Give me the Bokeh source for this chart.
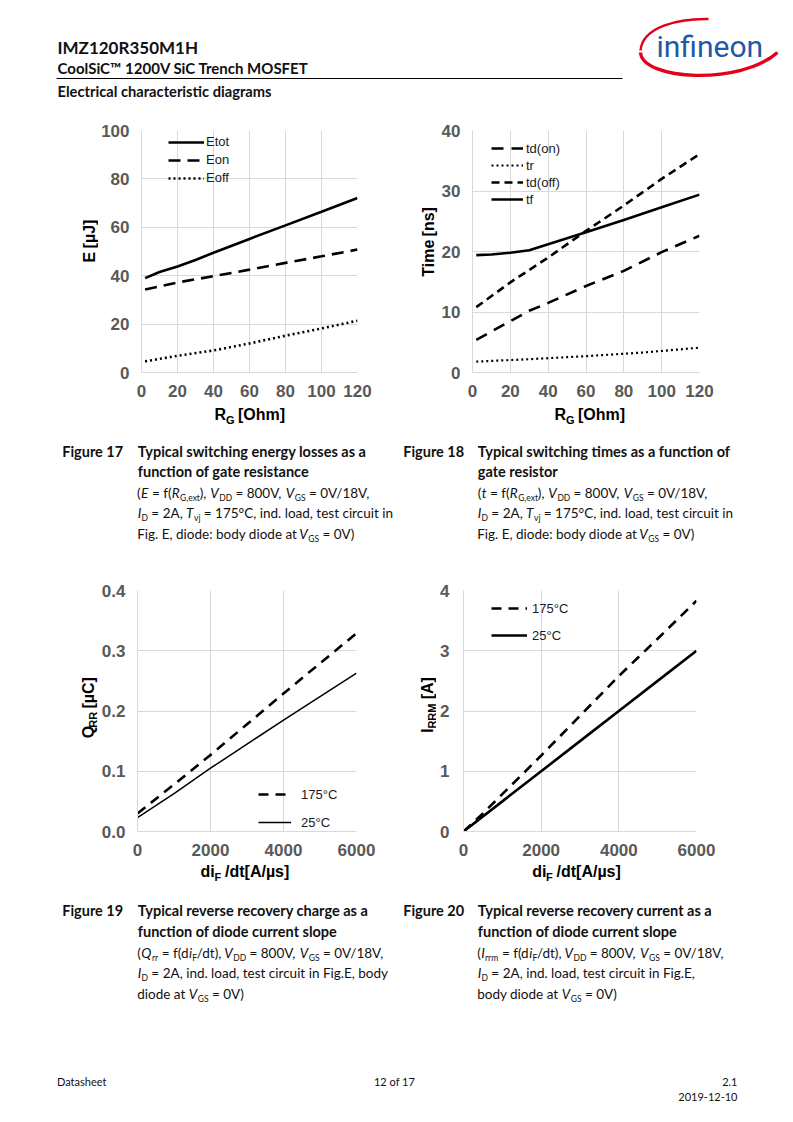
import math
from bokeh.plotting import figure
from bokeh.models import Range1d, FixedTicker, Legend, LegendItem, NumeralTickFormatter
from bokeh.layouts import column, row
from bokeh.embed import file_html
from bokeh.resources import INLINE
from bokeh.core.properties import value

# ---------------- data ----------------
# Figure 17: switching energy vs gate resistance
rg17_etot = [2, 10, 20, 30, 40, 60, 80, 100, 120]
e_tot = [39.0, 41.5, 43.8, 46.5, 49.5, 55.2, 60.8, 66.4, 72.1]
rg17 = [2, 20, 40, 60, 80, 100, 120]
e_on = [34.3, 37.2, 39.8, 42.5, 45.3, 48.0, 50.8]
e_off = [4.6, 6.9, 9.1, 12.0, 15.2, 18.2, 21.4]
# Figure 18: switching times vs gate resistance
rg18_tdon = [2, 30, 40, 60, 80, 100, 120]
t_don = [5.4, 10.2, 11.5, 14.3, 16.8, 19.9, 22.6]
rg18_tr = [2, 30, 60, 90, 120]
t_r = [1.8, 2.2, 2.7, 3.3, 4.1]
rg18_tdoff = [2, 20, 40, 60, 80, 100, 120]
t_doff = [10.8, 14.9, 19.0, 23.4, 27.6, 32.0, 36.1]
rg18_tf = [2, 10, 20, 30, 40, 60, 80, 100, 120]
t_f = [19.4, 19.5, 19.8, 20.2, 21.2, 23.2, 25.2, 27.3, 29.4]
# Figure 19: reverse recovery charge vs diF/dt
didt19 = [0, 1000, 2000, 3000, 4000, 5000, 6000]
qrr_175 = [0.030, 0.078, 0.127, 0.178, 0.229, 0.279, 0.329]
qrr_25 = [0.023, 0.063, 0.105, 0.145, 0.185, 0.224, 0.263]
# Figure 20: reverse recovery current vs diF/dt
didt20_175 = [0, 500, 1000, 2000, 3000, 4000, 5000, 6000]
irrm_175 = [0.0, 0.30, 0.62, 1.26, 1.92, 2.58, 3.20, 3.83]
didt20_25 = [0, 1000, 2000, 3000, 4000, 5000, 6000]
irrm_25 = [0.0, 0.50, 1.00, 1.50, 2.00, 2.50, 3.00]

x_ticks_rg = [0, 20, 40, 60, 80, 100, 120]
y_ticks_e = [0, 20, 40, 60, 80, 100]
y_ticks_t = [0, 10, 20, 30, 40]
x_ticks_didt = [0, 2000, 4000, 6000]
y_ticks_q = [0.0, 0.1, 0.2, 0.3, 0.4]
y_ticks_i = [0, 1, 2, 3, 4]

CF = "Liberation Sans"
TF = "Lato"
GRID = "#d9d9d9"
ROT = math.pi / 2

# approximate Lato advance widths (em) used to lay out mixed runs of text
LW = {" ": .26, "(": .30, ")": .30, ",": .22, ".": .22, "/": .35, "=": .58, ":": .24,
      "\u00b0": .36, "-": .35}
LW.update({d: .58 for d in "0123456789"})
LW.update(dict(zip("abcdefghijklmnopqrstuvwxyz",
                   [.497, .563, .465, .563, .525, .319, .507, .563, .241, .237, .508, .241, .838,
                    .563, .559, .555, .563, .366, .426, .349, .563, .502, .771, .493, .502, .445])))
LW.update(dict(zip("ABCDEFGHIJKLMNOPQRSTUVWXYZ",
                   [.671, .633, .677, .739, .551, .535, .727, .75, .28, .39, .66, .48, .91,
                    .75, .79, .60, .79, .62, .52, .59, .72, .67, 1.0, .64, .61, .60])))


def tw(s, size):
    return sum(LW.get(c, .55) for c in s) * size


# ---------------- helpers ----------------
def text_fig(x0, x1, y0, y1):
    p = figure(width=int(x1 - x0), height=int(y1 - y0), x_range=Range1d(x0, x1),
               y_range=Range1d(y1, y0), output_backend="svg",
               toolbar_location=None, x_axis_location=None, y_axis_location=None,
               min_border=0, title=None)
    p.grid.visible = False
    p.outline_line_color = None
    return p


def put(p, x, y, s, size, bold=False, italic=False, align="left", color="#111111",
        font=TF, angle=0.0, baseline="alphabetic"):
    style = "normal"
    if bold and italic:
        style = "bold italic"
    elif bold:
        style = "bold"
    elif italic:
        style = "italic"
    if baseline == "alphabetic" and angle == 0.0:
        y = y - 0.4 * size  # renderer places alphabetic text ~0.4em low
    p.text(x=[x], y=[y], text=[s], text_font=value(font), text_font_size=f"{size}px",
           text_font_style=style, text_align=align, text_baseline=baseline,
           text_color=color, angle=angle)


def rich(p, x0, y, segs, size=13.5, sub=8.5):
    x = x0
    for s, k in segs:
        sz = sub if k == "s" else size
        lead = len(s) - len(s.lstrip(" "))
        body = s.strip(" ")
        xs = x + lead * LW[" "] * sz
        if k == "s":
            put(p, xs, y + 2.8, body, sz)
        else:
            put(p, xs, y, body, sz, italic=(k == "i"))
        x += tw(s, sz)


def axlab(p, x, y, s, size=16, angle=0.0, baseline="alphabetic"):
    put(p, x, y, s, size, bold=True, color="black", font=CF, angle=angle, baseline=baseline)


def chart(fig_rect, frame, xr, yr, xt, yt, yfmt=None):
    px0, py0, w, h = fig_rect
    fl, fr, ft, fb = frame
    p = figure(width=w, height=h, x_range=Range1d(*xr), y_range=Range1d(*yr),
               output_backend="svg", toolbar_location=None, title=None,
               min_border_left=round(fl - px0), min_border_right=round(px0 + w - fr),
               min_border_top=round(ft - py0), min_border_bottom=round(py0 + h - fb))
    p.xaxis.ticker = FixedTicker(ticks=xt)
    p.yaxis.ticker = FixedTicker(ticks=yt)
    p.xgrid.ticker = FixedTicker(ticks=xt)
    p.ygrid.ticker = FixedTicker(ticks=yt)
    if yfmt:
        p.yaxis.formatter = NumeralTickFormatter(format=yfmt)
    for ax in p.axis:
        ax.major_tick_out = 0
        ax.major_tick_in = 0
        ax.minor_tick_out = 0
        ax.minor_tick_in = 0
        ax.axis_line_color = GRID
        ax.major_label_text_font = CF
        ax.major_label_text_font_size = "17px"
        ax.major_label_text_font_style = "bold"
        ax.major_label_text_color = "#595959"
    p.xaxis.major_label_standoff = 12
    p.yaxis.major_label_standoff = 12
    p.grid.grid_line_color = GRID
    p.grid.grid_line_width = 1
    p.outline_line_color = None
    return p, fb - ft


def legend(p, items, frame_h, top_off, gw, pitch, standoff):
    n = len(items)
    sp = int(round(pitch - 16))
    lh = n * 16 + (n - 1) * sp
    lg = Legend(items=[LegendItem(label=l, renderers=[r]) for l, r in items],
                location=(top_off[0], frame_h - top_off[1] - lh), glyph_width=gw,
                glyph_height=16, label_height=16,
                spacing=sp, label_standoff=standoff, padding=0, margin=0,
                border_line_color=None, background_fill_alpha=0,
                label_text_font=CF, label_text_font_size="13px",
                label_text_color="#1a1a1a")
    p.add_layout(lg)


# ---------------- header ----------------
hdr = text_fig(0, 793, 0, 118)
put(hdr, 57, 53.3, "IMZ120R350M1H", 17, bold=True)
put(hdr, 57, 73.3, "CoolSiC\u2122 1200V SiC Trench MOSFET", 15, bold=True)
hdr.line(x=[56, 622], y=[78.0, 78.0], line_color="black", line_width=1)
put(hdr, 57, 96.7, "Electrical characteristic diagrams", 14.7, bold=True)
# logo
hdr.bezier(x0=[640], y0=[52], x1=[777], y1=[52], cx0=[642], cy0=[80], cx1=[740], cy1=[85],
           line_color="#e2001a", line_width=3.4)
hdr.bezier(x0=[640], y0=[50], x1=[708], y1=[18.5], cx0=[642], cy0=[26], cx1=[678], cy1=[18],
           line_color="#e2001a", line_width=2.4)
put(hdr, 656, 57.7, "infineon", 30, color="#1e5aa6", font="Roboto")

# ---------------- chart 17 ----------------
p17, h17 = chart((98, 118, 295, 288), (140, 357, 130, 372), (0, 120), (0, 100), x_ticks_rg, y_ticks_e)
r_etot = p17.line(rg17_etot, e_tot, line_color="black", line_width=2.6)
r_eon = p17.line(rg17, e_on, line_color="black", line_width=2.6, line_dash="12 7")
r_eoff = p17.line(rg17, e_off, line_color="black", line_width=2.6, line_dash="2 3")
legend(p17, [("Etot", r_etot), ("Eon", r_eon), ("Eoff", r_eoff)], h17, (27, 3.7), 36, 18.3, 2)
yl17 = text_fig(0, 98, 118, 406)
axlab(yl17, 89, 275, "E", angle=ROT, baseline="middle")
axlab(yl17, 89, 258.3, "[\u00b5J]", angle=ROT, baseline="middle")

# ---------------- chart 18 ----------------
p18, h18 = chart((438, 118, 355, 288), (471, 699, 130, 372), (0, 120), (0, 40), x_ticks_rg, y_ticks_t)
r_tdon = p18.line(rg18_tdon, t_don, line_color="black", line_width=2.6, line_dash="12 8")
r_tr = p18.line(rg18_tr, t_r, line_color="black", line_width=2.2, line_dash="2 3")
r_tdoff = p18.line(rg18_tdoff, t_doff, line_color="black", line_width=2.6, line_dash="8 5")
r_tf = p18.line(rg18_tf, t_f, line_color="black", line_width=2.6)
legend(p18, [("td(on)", r_tdon), ("tr", r_tr), ("td(off)", r_tdoff), ("tf", r_tf)],
       h18, (19, 10), 32, 17, 3)
yl18 = text_fig(393, 438, 118, 406)
axlab(yl18, 427.5, 292, "Time", angle=ROT, baseline="middle")
axlab(yl18, 427.5, 244, "[ns]", angle=ROT, baseline="middle")

# ---------------- chart 19 ----------------
p19, h19 = chart((98, 575, 295, 288), (136, 356, 590, 832), (0, 6000), (0, 0.4), x_ticks_didt, y_ticks_q, "0.0")
r_q175 = p19.line(didt19, qrr_175, line_color="black", line_width=2.6, line_dash="10 7")
r_q25 = p19.line(didt19, qrr_25, line_color="black", line_width=1.5)
legend(p19, [("175\u00b0C", r_q175), ("25\u00b0C", r_q25)], h19, (121, 197), 33, 28, 10)
yl19 = text_fig(0, 98, 575, 863)
axlab(yl19, 88.3, 751.7, "Q", angle=ROT, baseline="middle")
axlab(yl19, 92.5, 739, "RR", size=11, angle=ROT, baseline="middle")
axlab(yl19, 88.3, 716, "[\u00b5C]", angle=ROT, baseline="middle")

# ---------------- chart 20 ----------------
p20, h20 = chart((436, 575, 357, 288), (463, 696, 589, 831), (0, 6000), (0, 4), x_ticks_didt, y_ticks_i)
p20.yaxis.major_label_standoff = 14
r_i175 = p20.line(didt20_175, irrm_175, line_color="black", line_width=2.6, line_dash="10 7")
r_i25 = p20.line(didt20_25, irrm_25, line_color="black", line_width=2.6)
legend(p20, [("175\u00b0C", r_i175), ("25\u00b0C", r_i25)], h20, (28, 11), 36, 27, 5)
yl20 = text_fig(393, 436, 575, 863)
axlab(yl20, 427, 745, "I", angle=ROT, baseline="middle")
axlab(yl20, 431, 740, "RRM", size=11, angle=ROT, baseline="middle")
axlab(yl20, 427, 705, "[A]", angle=ROT, baseline="middle")

# ---------------- captions 17/18 (+ x-axis titles) ----------------
cap1 = text_fig(0, 793, 406, 575)
axlab(cap1, 214, 420, "R")
axlab(cap1, 225.5, 423.5, "G", size=11)
axlab(cap1, 237.5, 420, "[Ohm]")
axlab(cap1, 554, 420, "R")
axlab(cap1, 565.5, 423.5, "G", size=11)
axlab(cap1, 577.5, 420, "[Ohm]")

put(cap1, 61.7, 456.7, "Figure 17", 14.5, bold=True)
put(cap1, 137.3, 456.7, "Typical switching energy losses as a", 14.5, bold=True)
put(cap1, 137.3, 477.0, "function of gate resistance", 14.5, bold=True)
rich(cap1, 136.5, 497.7, [("(", "n"), ("E", "i"), (" = f(", "n"), ("R", "i"), ("G,ext", "s"),
                          ("), ", "n"), ("V", "i"), ("DD", "s"), (" = 800V, ", "n"), ("V", "i"),
                          ("GS", "s"), (" = 0V/18V,", "n")])
rich(cap1, 137.3, 518.3, [("I", "i"), ("D", "s"), (" = 2A, ", "n"), ("T", "i"), ("vj", "s"),
                          (" = 175\u00b0C, ind. load, test circuit in", "n")])
rich(cap1, 136.7, 539.0, [("Fig. E, diode: body diode at ", "n"), ("V", "i"), ("GS", "s"),
                          (" = 0V)", "n")])
put(cap1, 402.7, 456.7, "Figure 18", 14.5, bold=True)
put(cap1, 477.3, 456.7, "Typical switching times as a function of", 14.5, bold=True)
put(cap1, 477.3, 477.0, "gate resistor", 14.5, bold=True)
rich(cap1, 477.3, 497.7, [("(", "n"), ("t", "i"), (" = f(", "n"), ("R", "i"), ("G,ext", "s"),
                          ("), ", "n"), ("V", "i"), ("DD", "s"), (" = 800V, ", "n"), ("V", "i"),
                          ("GS", "s"), (" = 0V/18V,", "n")])
rich(cap1, 477.3, 518.3, [("I", "i"), ("D", "s"), (" = 2A, ", "n"), ("T", "i"), ("vj", "s"),
                          (" = 175\u00b0C, ind. load, test circuit in", "n")])
rich(cap1, 476.7, 539.0, [("Fig. E, diode: body diode at ", "n"), ("V", "i"), ("GS", "s"),
                          (" = 0V)", "n")])

# ---------------- captions 19/20 (+ x-axis titles) ----------------
cap2 = text_fig(0, 793, 863, 1060)
axlab(cap2, 200, 877, "di")
axlab(cap2, 214, 880.5, "F", size=11)
axlab(cap2, 224.5, 877, "/dt[A/\u00b5s]")
axlab(cap2, 531.7, 877, "di")
axlab(cap2, 545.5, 880.5, "F", size=11)
axlab(cap2, 556, 877, "/dt[A/\u00b5s]")

put(cap2, 61.7, 916, "Figure 19", 14.5, bold=True)
put(cap2, 137.3, 916, "Typical reverse recovery charge as a", 14.5, bold=True)
put(cap2, 137.3, 936.7, "function of diode current slope", 14.5, bold=True)
rich(cap2, 136.7, 957.7, [("(", "n"), ("Q", "i"), ("rr", "s"), (" = f(d", "n"), ("i", "i"),
                          ("F", "s"), ("/dt), ", "n"), ("V", "i"), ("DD", "s"), (" = 800V, ", "n"),
                          ("V", "i"), ("GS", "s"), (" = 0V/18V,", "n")])
rich(cap2, 137.3, 978.3, [("I", "i"), ("D", "s"),
                          (" = 2A, ind. load, test circuit in Fig.E, body", "n")])
rich(cap2, 136.7, 999.0, [("diode at ", "n"), ("V", "i"), ("GS", "s"), (" = 0V)", "n")])
put(cap2, 402.7, 916, "Figure 20", 14.5, bold=True)
put(cap2, 477.3, 916, "Typical reverse recovery current as a", 14.5, bold=True)
put(cap2, 477.3, 936.7, "function of diode current slope", 14.5, bold=True)
rich(cap2, 476.7, 957.7, [("(", "n"), ("I", "i"), ("rrm", "s"), (" = f(d", "n"), ("i", "i"),
                          ("F", "s"), ("/dt), ", "n"), ("V", "i"), ("DD", "s"), (" = 800V, ", "n"),
                          ("V", "i"), ("GS", "s"), (" = 0V/18V,", "n")])
rich(cap2, 477.3, 978.3, [("I", "i"), ("D", "s"),
                          (" = 2A, ind. load, test circuit in Fig.E,", "n")])
rich(cap2, 476.7, 999.0, [("body diode at ", "n"), ("V", "i"), ("GS", "s"), (" = 0V)", "n")])

# ---------------- footer ----------------
ftr = text_fig(0, 793, 1060, 1118)
put(ftr, 56.5, 1085.7, "Datasheet", 11)
put(ftr, 394, 1085.7, "12 of 17", 11, align="center")
put(ftr, 737, 1085.7, "2.1", 11, align="right")
put(ftr, 737, 1101, "2019-12-10", 11, align="right")

layout = column(hdr,
                row(yl17, p17, yl18, p18),
                cap1,
                row(yl19, p19, yl20, p20),
                cap2,
                ftr)
open("out.html", "w").write(file_html(layout, INLINE))
